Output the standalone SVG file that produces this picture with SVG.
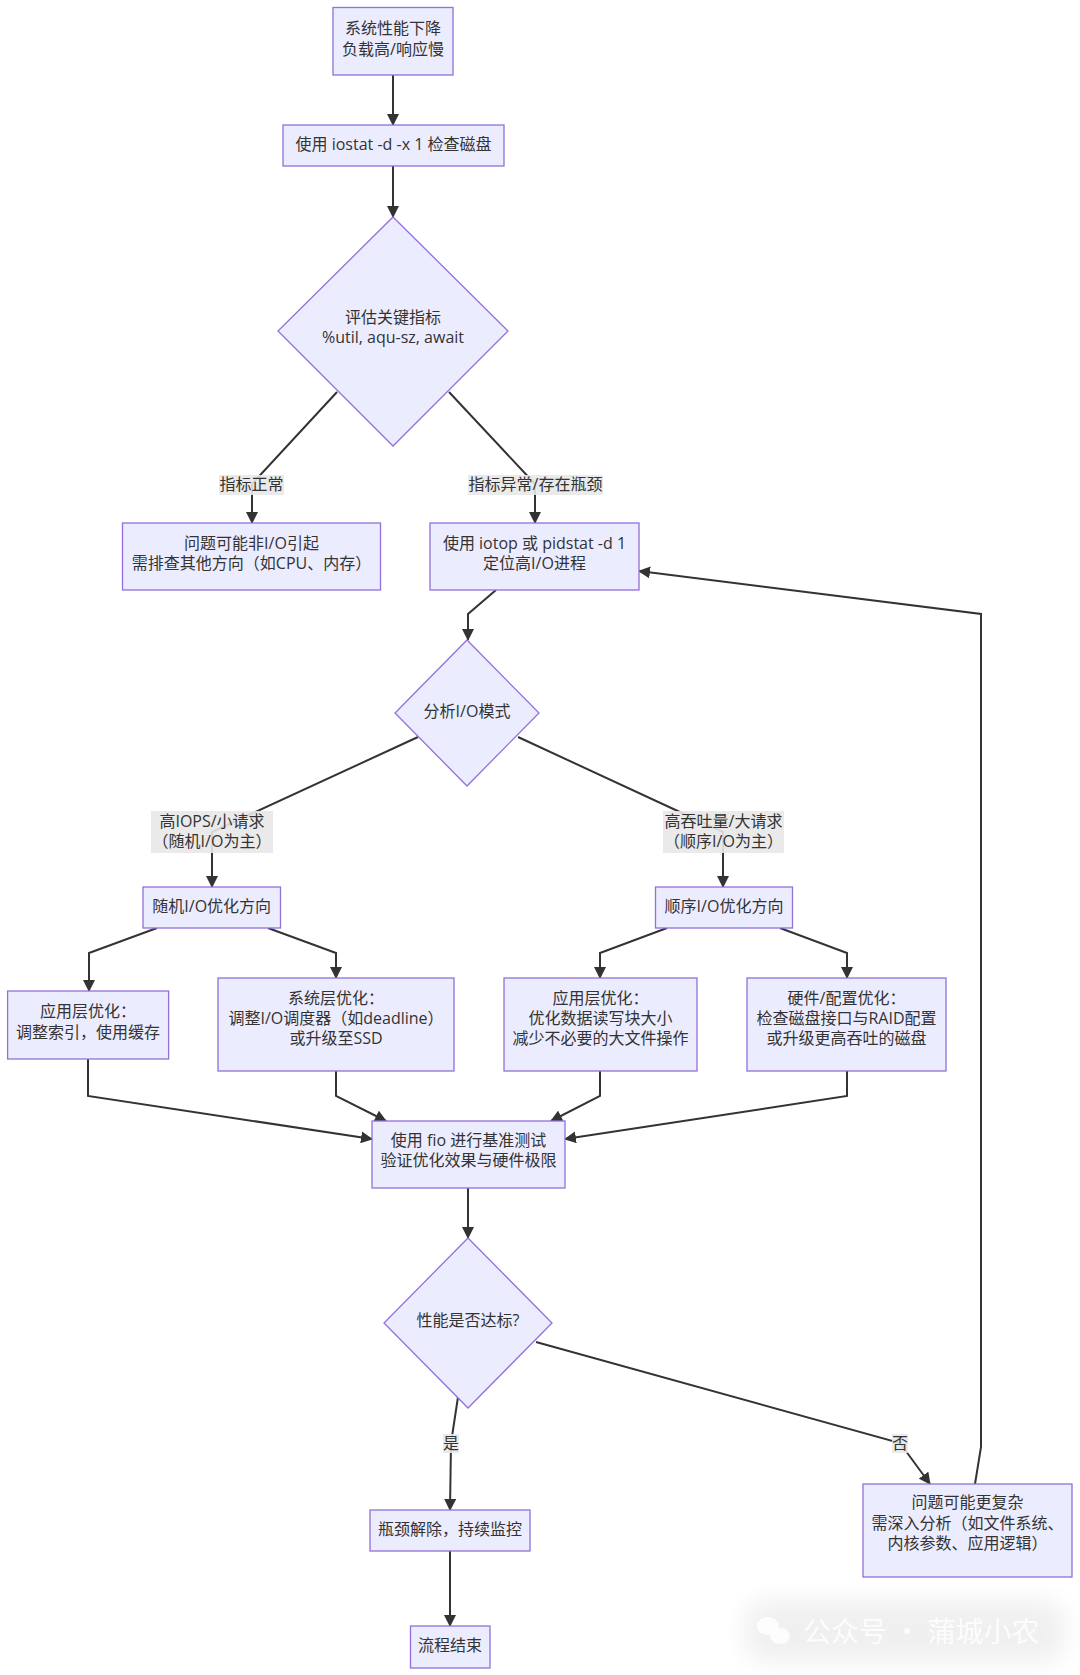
<svg xmlns="http://www.w3.org/2000/svg" width="1080" height="1675" viewBox="0 0 1080 1675">
<style>
.n{fill:#ECECFF;stroke:#9370DB;stroke-width:1.3}
.t{font-family:"Open Sans","Noto Sans CJK SC",sans-serif;font-size:16px;fill:#333;text-anchor:middle;dominant-baseline:central}
.e{fill:none;stroke:#333;stroke-width:2}
.lb{fill:#e8e8e8;opacity:0.9}
.wm{font-family:"Noto Sans CJK SC",sans-serif;font-size:28px;fill:#fff;dominant-baseline:central}
</style>
<defs>
<marker id="ah" viewBox="0 0 12 12" refX="11" refY="6" markerWidth="12" markerHeight="12" markerUnits="userSpaceOnUse" orient="auto">
<path d="M0,0 L12,6 L0,12 z" fill="#333"/>
</marker>
<filter id="bl" x="-20%" y="-50%" width="140%" height="200%"><feGaussianBlur stdDeviation="12"/></filter>
</defs>
<rect width="1080" height="1675" fill="#fff"/>

<g id="connectors">
<polyline class="e" marker-end="url(#ah)" points="393,75 393,125"/>
<polyline class="e" marker-end="url(#ah)" points="393,166 393,217"/>
<polyline class="e" marker-end="url(#ah)" points="337,392 252,484 252,523"/>
<polyline class="e" marker-end="url(#ah)" points="449,392 535,484 535,523"/>
<polyline class="e" marker-end="url(#ah)" points="496,590 468,614 468,640"/>
<polyline class="e" marker-end="url(#ah)" points="418,737 212,832 212,887"/>
<polyline class="e" marker-end="url(#ah)" points="518,737 723,832 723,887"/>
<polyline class="e" marker-end="url(#ah)" points="157,928 89,953 89,991"/>
<polyline class="e" marker-end="url(#ah)" points="268,928 336,953 336,978"/>
<polyline class="e" marker-end="url(#ah)" points="667,928 600,953 600,978"/>
<polyline class="e" marker-end="url(#ah)" points="780,928 847,953 847,978"/>
<polyline class="e" marker-end="url(#ah)" points="88,1059 88,1096 372,1139"/>
<polyline class="e" marker-end="url(#ah)" points="336,1071 336,1096 386,1121"/>
<polyline class="e" marker-end="url(#ah)" points="600,1071 600,1096 551,1121"/>
<polyline class="e" marker-end="url(#ah)" points="847,1071 847,1096 565,1139"/>
<polyline class="e" marker-end="url(#ah)" points="468,1188 468,1238"/>
<polyline class="e" marker-end="url(#ah)" points="458,1397 451,1443 450,1510"/>
<polyline class="e" marker-end="url(#ah)" points="450,1551 450,1626"/>
<polyline class="e" marker-end="url(#ah)" points="536,1342 900,1443 930,1484"/>
<polyline class="e" marker-end="url(#ah)" points="975,1484 981,1447 981,614 639,571"/>
</g>

<g id="edge-labels">
<rect class="lb" x="219" y="475" width="65" height="20"/>
<text class="t" x="251.5" y="484">指标正常</text>
<rect class="lb" x="468" y="475" width="135" height="20"/>
<text class="t" x="535.5" y="484">指标异常/存在瓶颈</text>
<rect class="lb" x="151" y="811" width="122" height="42"/>
<text class="t" x="212" y="821">高IOPS/小请求</text>
<text class="t" x="212" y="841">（随机I/O为主）</text>
<rect class="lb" x="663" y="811" width="121" height="42"/>
<text class="t" x="723.5" y="821">高吞吐量/大请求</text>
<text class="t" x="723.5" y="841">（顺序I/O为主）</text>
<rect class="lb" x="443" y="1434" width="16" height="19"/>
<text class="t" x="451" y="1442.5">是</text>
<rect class="lb" x="892" y="1434" width="16" height="19"/>
<text class="t" x="900" y="1442.5">否</text>
</g>

<g id="n1"><rect class="n" x="333" y="7.5" width="120" height="67.5"/>
<text class="t" x="393" y="27.5">系统性能下降</text><text class="t" x="393" y="48.5">负载高/响应慢</text></g>

<g id="n2"><rect class="n" x="283" y="125" width="221" height="41"/>
<text class="t" x="393.5" y="144">使用 iostat -d -x 1 检查磁盘</text></g>

<g id="d1"><polygon class="n" points="393,217 508,331 393,446 278,331"/>
<text class="t" x="393" y="317">评估关键指标</text><text class="t" x="393" y="337">%util, aqu-sz, await</text></g>

<g id="n3"><rect class="n" x="122.5" y="523" width="258" height="67"/>
<text class="t" x="251.5" y="543">问题可能非I/O引起</text><text class="t" x="251.5" y="563">需排查其他方向（如CPU、内存）</text></g>

<g id="n4"><rect class="n" x="430" y="523" width="209" height="67"/>
<text class="t" x="534.5" y="543">使用 iotop 或 pidstat -d 1</text><text class="t" x="534.5" y="563">定位高I/O进程</text></g>

<g id="d2"><polygon class="n" points="467,640 539,713 467,786 395,713"/>
<text class="t" x="467" y="710.5">分析I/O模式</text></g>

<g id="n5"><rect class="n" x="143" y="887" width="137.5" height="41"/>
<text class="t" x="211.7" y="906">随机I/O优化方向</text></g>

<g id="n6"><rect class="n" x="655.5" y="887" width="137" height="41"/>
<text class="t" x="724" y="906">顺序I/O优化方向</text></g>

<g id="n7"><rect class="n" x="7.6" y="991" width="161" height="68"/>
<text class="t" x="88" y="1011">应用层优化：</text><text class="t" x="88" y="1032">调整索引，使用缓存</text></g>

<g id="n8"><rect class="n" x="218" y="978" width="236" height="93"/>
<text class="t" x="336" y="998">系统层优化：</text><text class="t" x="336" y="1018">调整I/O调度器（如deadline）</text><text class="t" x="336" y="1038">或升级至SSD</text></g>

<g id="n9"><rect class="n" x="504" y="978" width="193" height="93"/>
<text class="t" x="600.5" y="998">应用层优化：</text><text class="t" x="600.5" y="1018">优化数据读写块大小</text><text class="t" x="600.5" y="1038">减少不必要的大文件操作</text></g>

<g id="n10"><rect class="n" x="747" y="978" width="199" height="93"/>
<text class="t" x="846.5" y="998">硬件/配置优化：</text><text class="t" x="846.5" y="1018">检查磁盘接口与RAID配置</text><text class="t" x="846.5" y="1038">或升级更高吞吐的磁盘</text></g>

<g id="n11"><rect class="n" x="372" y="1121" width="193" height="67"/>
<text class="t" x="468.5" y="1140">使用 fio 进行基准测试</text><text class="t" x="468.5" y="1160">验证优化效果与硬件极限</text></g>

<g id="d3"><polygon class="n" points="468,1238 552,1323 468,1408 384,1323"/>
<text class="t" x="468" y="1320">性能是否达标?</text></g>

<g id="n12"><rect class="n" x="370" y="1510" width="160" height="41"/>
<text class="t" x="450" y="1529">瓶颈解除，持续监控</text></g>

<g id="n13"><rect class="n" x="410.5" y="1626" width="79.5" height="42"/>
<text class="t" x="450" y="1645">流程结束</text></g>

<g id="n14"><rect class="n" x="863" y="1484" width="209" height="93"/>
<text class="t" x="967.5" y="1502">问题可能更复杂</text><text class="t" x="967.5" y="1523">需深入分析（如文件系统、</text><text class="t" x="967.5" y="1543">内核参数、应用逻辑）</text></g>

<g id="watermark">
<rect x="745" y="1600" width="320" height="62" rx="20" fill="#000" opacity="0.06" filter="url(#bl)"/>
<ellipse cx="768" cy="1626" rx="11" ry="9" fill="#fff" opacity="0.85"/>
<ellipse cx="780" cy="1636" rx="10" ry="8" fill="#fff" opacity="0.85"/>
<text class="wm" x="803" y="1630" opacity="0.85">公众号 · 蒲城小农</text>
</g>
</svg>
